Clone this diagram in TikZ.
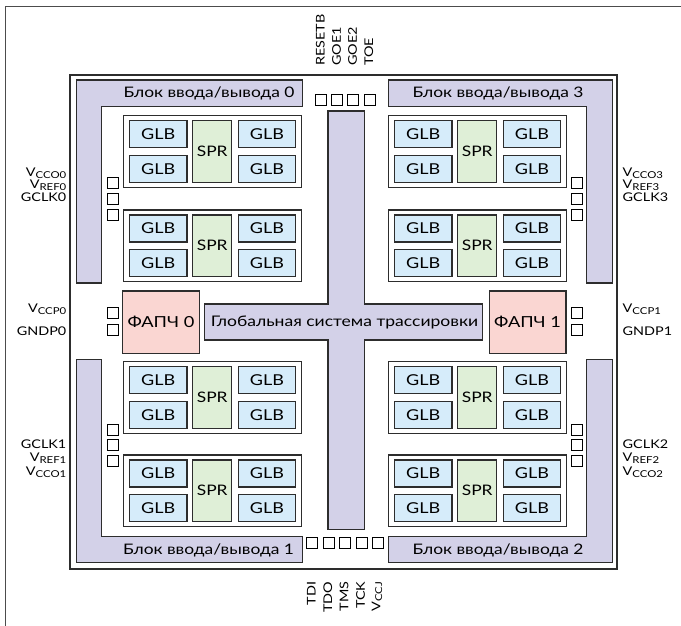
\documentclass[tikz,border=0pt]{standalone}
\usepackage{fontspec}
\setmainfont{Lato}[FakeStretch=1.2]
\definecolor{iofill}{RGB}{211,209,232}
\definecolor{glbfill}{RGB}{214,236,250}
\definecolor{sprfill}{RGB}{223,239,215}
\definecolor{pllfill}{RGB}{250,214,210}
\definecolor{edge}{RGB}{45,45,45}
\newcommand{\sig}[2]{#1\raisebox{-0.3ex}{\fontsize{9.5}{10}\selectfont #2}}
\tikzset{
  outline/.style={draw=edge, line width=1.2pt},
  iobar/.style={outline, fill=iofill},
  cluster/.style={outline, fill=white, minimum width=178.4pt, minimum height=71.6pt, inner sep=0pt},
  glb/.style={outline, fill=glbfill, minimum width=57.7pt, minimum height=27pt, inner sep=0pt, font=\fontsize{15}{15}\selectfont},
  spr/.style={outline, fill=sprfill, minimum width=39pt, minimum height=61.5pt, inner sep=0pt, font=\fontsize{14.5}{15}\selectfont},
  pll/.style={outline, fill=pllfill, minimum width=76.6pt, minimum height=62.3pt, inner sep=0pt, font=\fontsize{15.2}{16}\selectfont},
  pin/.style={draw=black, line width=1pt, fill=white, minimum size=11pt, inner sep=0pt},
  pinlabel/.style={font=\fontsize{12}{13}\selectfont, inner sep=0pt},
  iolabel/.style={font=\fontsize{14.5}{15}\selectfont, inner sep=0pt},
}
\begin{document}
\begin{tikzpicture}[x=1pt, y=-1pt]
\useasboundingbox (0,0) rectangle (681,626);
% page frame
\draw[line width=1pt, draw=black!70] (5,626) -- (5,6.7) -- (681,6.7);
% chip outline
\draw[outline, fill=white] (70,75) rectangle (617,569);
% I/O banks
\draw[iobar] (76.7,80) -- (302.7,80) -- (302.7,106.7) -- (101.7,106.7) -- (101.7,283) -- (76.7,283) -- cycle;
\draw[iobar] (388.3,80) -- (612.3,80) -- (612.3,283) -- (586.7,283) -- (586.7,106.7) -- (388.3,106.7) -- cycle;
\draw[iobar] (76.7,359.3) -- (101.7,359.3) -- (101.7,536.7) -- (302.7,536.7) -- (302.7,562.3) -- (76.7,562.3) -- cycle;
\draw[iobar] (586.7,359.3) -- (612.3,359.3) -- (612.3,562.3) -- (388.3,562.3) -- (388.3,536.7) -- (586.7,536.7) -- cycle;
\node[iolabel] (io0) at (209,93.5) {Блок ввода/вывода 0};
\node[iolabel] (io3) at (498,93.5) {Блок ввода/вывода 3};
\node[iolabel] (io1) at (208.5,550) {Блок ввода/вывода 1};
\node[iolabel] (io2) at (498,550) {Блок ввода/вывода 2};
% global routing pool
\draw[iobar] (328,111) -- (364.3,111) -- (364.3,304) -- (482.7,304) -- (482.7,340)
  -- (364.3,340) -- (364.3,529.3) -- (328,529.3) -- (328,340) -- (204.3,340)
  -- (204.3,304) -- (328,304) -- cycle;
\node[font=\fontsize{14.6}{15}\selectfont, inner sep=0pt] (routing) at (344.5,322) {Глобальная система трассировки};
% PLLs
\node[pll] (pll0) at (161,322.2) {ФАПЧ 0};
\node[pll] (pll1) at (527.6,322.2) {ФАПЧ 1};
% logic clusters
\foreach \n/\cx/\cy in {0/123.3/115.7, 1/123.3/210, 2/123.3/361.7, 3/123.3/455,
                        4/388.3/115.7, 5/388.3/210, 6/388.3/361.7, 7/388.3/455} {
  \node[cluster] (cl\n) at (\cx+89.2,\cy+35.8) {};
  \node[glb] (glb\n a) at (\cx+34.85,\cy+18.5) {GLB};
  \node[glb] (glb\n b) at (\cx+34.85,\cy+53) {GLB};
  \node[spr] (spr\n) at (\cx+88.9,\cy+35.75) {SPR};
  \node[glb] (glb\n c) at (\cx+143.65,\cy+18.5) {GLB};
  \node[glb] (glb\n d) at (\cx+143.65,\cy+53) {GLB};
}
% side pins
\foreach \k/\py in {1/183.2, 2/199.2, 3/214.8, 4/313, 5/329.7, 6/429.5, 7/445.3, 8/461.3} {
  \node[pin] (pinl\k) at (112.5,\py) {};
  \node[pin] (pinr\k) at (577.2,\py) {};
}
% top and bottom pins
\foreach \k in {0,...,3} \node[pin] (pint\k) at (321.2+16.1*\k,100.5) {};
\foreach \k in {0,...,4} \node[pin] (pinb\k) at (312.3+16.4*\k,543.2) {};
% pin names, left
\node[pinlabel, anchor=east] (lvcco0) at (66.5,173) {\sig{V}{CCO0}};
\node[pinlabel, anchor=east] (lvref0) at (66.5,185.5) {\sig{V}{REF0}};
\node[pinlabel, anchor=east] (lgclk0) at (66.5,197.5) {GCLK0};
\node[pinlabel, anchor=east] (lvccp0) at (66.5,309) {\sig{V}{CCP0}};
\node[pinlabel, anchor=east] (lgndp0) at (66.5,331) {GNDP0};
\node[pinlabel, anchor=east] (lgclk1) at (66.5,444) {GCLK1};
\node[pinlabel, anchor=east] (lvref1) at (66.5,458) {\sig{V}{REF1}};
\node[pinlabel, anchor=east] (lvcco1) at (66.5,472) {\sig{V}{CCO1}};
% pin names, right
\node[pinlabel, anchor=west] (rvcco3) at (622.5,173) {\sig{V}{CCO3}};
\node[pinlabel, anchor=west] (rvref3) at (622.5,185.5) {\sig{V}{REF3}};
\node[pinlabel, anchor=west] (rgclk3) at (622.5,197.5) {GCLK3};
\node[pinlabel, anchor=west] (rvccp1) at (622.5,309) {\sig{V}{CCP1}};
\node[pinlabel, anchor=west] (rgndp1) at (622.5,331) {GNDP1};
\node[pinlabel, anchor=west] (rgclk2) at (622.5,444) {GCLK2};
\node[pinlabel, anchor=west] (rvref2) at (622.5,458) {\sig{V}{REF2}};
\node[pinlabel, anchor=west] (rvcco2) at (622.5,472) {\sig{V}{CCO2}};
% pin names, top
\foreach \k/\t in {0/RESETB, 1/GOE1, 2/GOE2, 3/TOE}
  \node[pinlabel, rotate=90, anchor=west] (tlab\k) at (320.4+16.1*\k,66) {\t};
% pin names, bottom
\foreach \k/\t in {0/TDI, 1/TDO, 2/TMS, 3/TCK, 4/\sig{V}{CCJ}}
  \node[pinlabel, rotate=90, anchor=east] (blab\k) at (311.3+16.4*\k,581.5) {\t};
\end{tikzpicture}
\end{document}
